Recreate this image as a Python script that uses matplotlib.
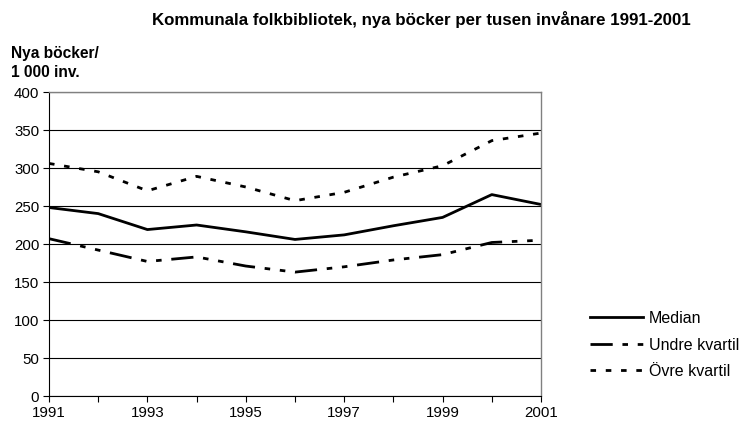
import matplotlib
matplotlib.use("Agg")
import matplotlib.pyplot as plt

plt.rcParams['font.family'] = ['Liberation Sans', 'DejaVu Sans']

years = [1991, 1992, 1993, 1994, 1995, 1996, 1997, 1998, 1999, 2000, 2001]
median = [248, 240, 219, 225, 216, 206, 212, 224, 235, 265, 252]
undre = [207, 192, 177, 183, 171, 163, 170, 179, 186, 202, 205]
ovre = [306, 295, 270, 289, 275, 257, 268, 288, 303, 336, 346]
xtick_labels = ['1991', '1993', '1995', '1997', '1999', '2001']
yticks = [0, 50, 100, 150, 200, 250, 300, 350, 400]

title = 'Kommunala folkbibliotek, nya böcker per tusen invånare 1991-2001'
ylabel = 'Nya böcker/\n1 000 inv.'

fig = plt.figure(figsize=(7.41, 4.23), dpi=100)
ax = fig.add_axes([49/741, 1-396/423, (541-49)/741, (396-92)/423])

ax.plot(years, median, color='black', lw=2.0, ls='-', label='Median')
ax.plot(years, undre, color='black', lw=2.0, ls=(0, (8, 3.5, 2, 3.5, 2, 3.5)), label='Undre kvartil')
ax.plot(years, ovre, color='black', lw=2.0, ls=(0, (2, 3.5)), label='Övre kvartil')

ax.set_xlim(1991, 2001)
ax.set_ylim(0, 400)
ax.set_yticks(yticks)
ax.set_xticks(years)
ax.set_xticklabels([str(y) if str(y) in xtick_labels else '' for y in years])
ax.yaxis.grid(True, color='black', lw=0.8)
ax.set_axisbelow(True)
for s in ['top', 'right']:
    ax.spines[s].set_color('#808080')
    ax.spines[s].set_linewidth(1.0)
ax.spines['left'].set_color('black')
ax.spines['bottom'].set_color('black')
ax.tick_params(axis='both', direction='out', length=4, width=0.8, labelsize=10.8, pad=3, color='black')

fig.text(421/741, 1-20/423, title, ha='center', va='center', fontsize=12.2, fontweight='bold')
fig.text(11/741, 1-63/423, ylabel, ha='left', va='center', fontsize=11.2, fontweight='bold', linespacing=1.35)

leg = fig.legend(loc='upper left', bbox_to_anchor=(590/741, 1-311/423), frameon=False,
                 fontsize=11.5, handlelength=3.3, handletextpad=0.4, labelspacing=0.72,
                 borderaxespad=0, borderpad=0)

fig.savefig('out.png', dpi=100)
